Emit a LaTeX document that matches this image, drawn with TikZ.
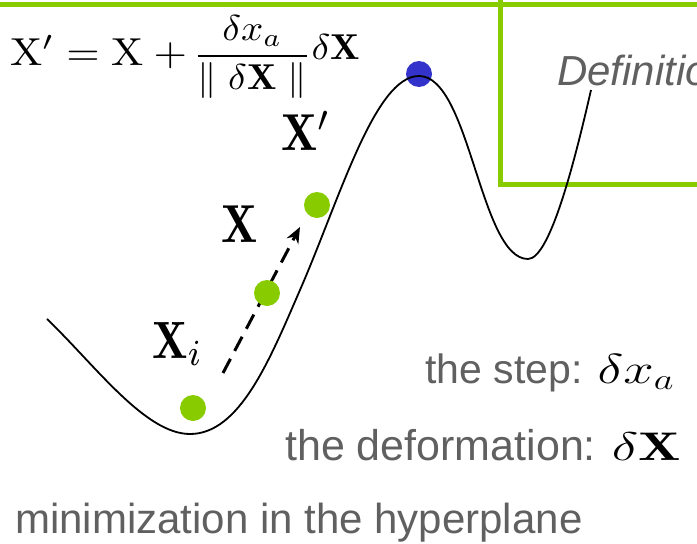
\RequirePackage{fix-cm}
\documentclass[tikz,border=0pt]{standalone}
\usepackage{fontspec}
\newfontfamily\arialfont{Liberation Sans}
\usetikzlibrary{arrows.meta}
\definecolor{lime}{RGB}{136,204,0}
\definecolor{dotblue}{RGB}{51,51,204}
\definecolor{txtgray}{RGB}{96,96,96}
\begin{document}
\begin{tikzpicture}[x=1pt,y=-1pt,
  greenline/.style={draw=lime,line width=5pt,line join=miter},
  curve/.style={draw=black,line width=1.8pt},
  gdot/.style={circle,fill=lime,minimum size=26pt,inner sep=0pt},
  bdot/.style={circle,fill=dotblue,minimum size=26pt,inner sep=0pt},
  lbl/.style={anchor=base west,inner sep=0pt,font=\fontsize{10}{12}\selectfont},
  mth/.style={anchor=base west,inner sep=0pt,font=\fontsize{10}{12}\selectfont},
  gtext/.style={anchor=base west,inner sep=0pt,font=\arialfont\fontsize{41}{49}\selectfont},
  dasharrow/.style={line width=3pt,dash pattern=on 16pt off 9pt,-{Stealth[length=16pt,width=13pt]}}
]
\useasboundingbox (0,0) rectangle (697,544);
\clip (0,0) rectangle (697,544);
% green frame lines
\draw[greenline] (0,4.5) -- (697,4.5);
\draw[greenline] (500.5,0) -- (500.5,184) -- (700,184);
% definition label
\node[gtext,text=txtgray,font=\arialfont\itshape\fontsize{42}{50}\selectfont] (def) at (557,85) {Definition};
% peak dot
\node[bdot] (peak) at (419,74) {};
% energy curve
\draw[curve] (47,319) .. controls (95,365) and (145,434) .. (190,434)
  .. controls (240,434) and (270,359) .. (300,290)
  .. controls (340,198) and (375,76) .. (419,76)
  .. controls (470,76) and (480,259) .. (528,259)
  .. controls (550,259) and (575,160) .. (591,90);
% dashed arrow
\coordinate (a0) at (223,373);
\coordinate (a1) at (300,227);
\draw[dasharrow] (a0) -- (a1);
% green dots
\node[gdot] (d1) at (193,408) {};
\node[gdot] (d2) at (267,293) {};
\node[gdot] (d3) at (317,205) {};
% labels
\node[lbl] (lxp) at (281,150) {\scalebox{4.8}[5.2]{$\mathbf{X}'$}};
\node[lbl] (lx) at (221,242) {\scalebox{4.8}[5.35]{$\mathbf{X}$}};
\node[lbl] (lxi) at (152,358) {\scalebox{4.7}[5.25]{$\mathbf{X}_i$}};
% formula
\node[mth] (formA) at (10,65) {\scalebox{4.3}[3.9]{$\mathrm{X}' = \mathrm{X} + {}$}};
\node[mth] (formB) at (193,65)
  {\scalebox{3.9}[3.6]{$\displaystyle\frac{\delta x_a}{\parallel \delta\mathbf{X} \parallel}\raisebox{1.5pt}{$\delta\mathbf{X}$}$}};
% right texts
\node[gtext] (step) at (425,383) {{\color{txtgray}the step: }{\fontsize{42}{50}\selectfont\scalebox{1.3}[1]{$\delta x_a$}}};
\node[gtext,font=\arialfont\fontsize{43}{51}\selectfont] (deform) at (285,460) {{\color{txtgray}the deformation: }{\fontsize{40}{48}\selectfont\scalebox{1.4}[1]{$\delta\mathbf{X}$}}};
\node[gtext,text=txtgray,font=\arialfont\fontsize{42}{50}\selectfont] (minim) at (15,533) {minimization in the hyperplane};
\end{tikzpicture}
\end{document}
